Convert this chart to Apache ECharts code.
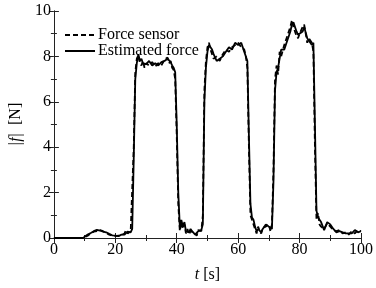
<!DOCTYPE html>
<html>
<head>
<meta charset="utf-8">
<script src="https://cdn.jsdelivr.net/npm/echarts@6/dist/echarts.min.js"></script>
<style>
  html, body { margin: 0; padding: 0; background: #fff; }
  #chart { width: 376px; height: 288px; }
</style>
</head>
<body>
<div id="chart"></div>
<script>
// time [s]
var time = [0, 9.5, 10, 11, 12, 13, 14, 15, 16, 17, 18, 19, 20, 21, 22, 23, 23.5, 24, 25, 25.5,
  26, 26.5, 27, 27.5, 28, 28.5, 29, 29.5, 30, 31, 32, 33, 34, 35, 36, 37, 37.5, 38, 38.5, 39, 39.5,
  40, 40.5, 41, 41.5, 42, 42.5, 43, 43.5, 44, 44.5, 45, 46, 46.5, 47, 48, 48.5,
  49, 49.5, 50, 50.5, 51, 51.5, 52, 53, 54, 55, 56, 57, 58, 59, 60, 61, 62, 62.5, 63,
  63.5, 64, 64.5, 65, 65.5, 66, 66.5, 67, 67.5, 68, 69, 70, 70.5, 71,
  71.5, 72, 72.5, 73, 73.5, 74, 75, 76, 77, 77.5, 78, 79, 79.5, 80, 81, 81.5, 82, 82.5, 83, 84, 84.5,
  85, 85.5, 86, 86.5, 87, 88, 89, 90, 91, 92, 93, 94, 95, 96, 97, 98, 99, 100]

// force sensor |f| [N]
var sensorForce = [0, 0, 0.05, 0.1, 0.2, 0.28, 0.3, 0.35, 0.3, 0.22, 0.15, 0.1, 0.08, 0.1, 0.12, 0.2, 0.35, 0.2, 0.3, 0.35,
  4.0, 7.3, 7.9, 8.05, 7.7, 7.6, 7.8, 7.5, 7.7, 7.6, 7.75, 7.55, 7.7, 7.6, 7.85, 7.95, 7.7, 7.8, 7.5, 7.4, 7.0,
  4.5, 1.5, 0.3, 0.7, 0.4, 0.6, 0.2, 0.4, 0.15, 0.3, 0.35, 0.2, 0.1, 0.35, 0.3, 1.0,
  6.5, 7.8, 8.4, 8.6, 8.3, 8.1, 7.9, 8.0, 7.8, 8.1, 8.3, 8.2, 8.4, 8.5, 8.6, 8.4, 8.3, 8.0, 7.5,
  4.0, 1.0, 1.0, 0.6, 0.4, 0.2, 0.5, 0.3, 0.2, 0.45, 0.5, 0.6, 0.3, 0.6,
  3.0, 7.0, 7.6, 7.2, 8.2, 8.0, 8.5, 8.9, 9.3, 9.6, 9.3, 8.9, 8.8, 9.0, 9.3, 9.4, 9.0, 8.6, 8.8, 8.6, 8.2,
  4.0, 0.8, 1.1, 0.6, 0.5, 0.4, 0.65, 0.5, 0.35, 0.3, 0.35, 0.2, 0.25, 0.15, 0.3, 0.2, 0.35, 0.3]

// estimated force |f| [N]
var estimatedForce = [0, 0, 0.08, 0.15, 0.22, 0.3, 0.36, 0.33, 0.28, 0.25, 0.18, 0.12, 0.1, 0.08, 0.15, 0.15, 0.2, 0.28, 0.25, 0.4,
  3.5, 7.0, 7.7, 8.1, 7.8, 7.9, 7.7, 7.75, 7.65, 7.8, 7.6, 7.7, 7.6, 7.75, 7.8, 7.9, 7.85, 7.75, 7.6, 7.5, 7.3,
  5.0, 2.0, 0.5, 0.8, 0.5, 0.7, 0.3, 0.35, 0.25, 0.4, 0.3, 0.15, 0.2, 0.3, 0.35, 0.6,
  6.0, 7.5, 8.2, 8.5, 8.4, 8.3, 8.1, 7.8, 7.9, 8.0, 8.2, 8.4, 8.3, 8.6, 8.5, 8.6, 8.2, 8.2, 7.8,
  4.5, 1.5, 0.9, 0.8, 0.5, 0.3, 0.4, 0.4, 0.25, 0.4, 0.6, 0.5, 0.5, 0.4,
  2.5, 6.5, 7.3, 7.5, 7.9, 8.3, 8.3, 8.7, 9.1, 9.4, 9.5, 9.1, 8.95, 8.9, 9.1, 9.3, 9.3, 8.8, 8.7, 8.5, 8.6,
  5.0, 1.2, 0.9, 0.8, 0.7, 0.35, 0.7, 0.6, 0.4, 0.25, 0.3, 0.25, 0.2, 0.2, 0.2, 0.35, 0.25, 0.3]

var xTicks = [0, 20, 40, 60, 80, 100]
var yTicks = [0, 2, 4, 6, 8, 10]

var serif = 'Liberation Serif'

function pairs(xs, ys) {
  return xs.map(function (x, i) { return [x, ys[i]] })
}

var chart = echarts.init(document.getElementById('chart'))

var axisCommon = {
  type: 'value',
  axisLine: { show: true, lineStyle: { color: '#222', width: 1 } },
  axisTick: { show: true, inside: true, length: 5, lineStyle: { color: '#222' } },
  minorTick: { show: true, splitNumber: 2, length: 3, lineStyle: { color: '#222' } },
  splitLine: { show: false },
  minorSplitLine: { show: false }
}

var options = {
  animation: false,
  backgroundColor: '#fff',
  textStyle: { fontFamily: serif, color: '#000' },
  grid: { left: 46, right: 14, top: 11, bottom: 50 },
  legend: {
    left: 59,
    top: 22,
    orient: 'vertical',
    itemWidth: 30,
    itemHeight: 14,
    itemGap: 0,
    itemStyle: { opacity: 0 },
    textStyle: { fontFamily: serif, fontSize: 16, color: '#000', padding: [0, 0, 0, -2] },
    data: ['Force sensor', 'Estimated force']
  },
  xAxis: [
    Object.assign({}, axisCommon, {
      min: xTicks[0],
      max: xTicks[xTicks.length - 1],
      interval: 20,
      position: 'bottom',
      name: '{i|t} [s]',
      nameLocation: 'middle',
      nameGap: 29,
      nameTextStyle: {
        fontFamily: serif, fontSize: 16, color: '#000',
        rich: { i: { fontFamily: serif, fontSize: 16, fontStyle: 'italic' } }
      },
      axisLine: { show: true, lineStyle: { color: '#555', width: 1 } },
      axisLabel: { fontFamily: serif, fontSize: 16, color: '#000', margin: 4 }
    }),
    Object.assign({}, axisCommon, {
      min: xTicks[0],
      max: xTicks[xTicks.length - 1],
      interval: 20,
      position: 'top',
      axisLabel: { show: false }
    })
  ],
  yAxis: [
    Object.assign({}, axisCommon, {
      min: yTicks[0],
      max: yTicks[yTicks.length - 1],
      interval: 2,
      position: 'left',
      name: '{i||f|}  [N]',
      nameLocation: 'middle',
      nameGap: 26,
      nameTextStyle: {
        fontFamily: serif, fontSize: 16, color: '#000',
        rich: { i: { fontFamily: serif, fontSize: 16, fontStyle: 'italic' } }
      },
      axisLabel: { fontFamily: serif, fontSize: 16, color: '#000', margin: 3 }
    }),
    Object.assign({}, axisCommon, {
      min: yTicks[0],
      max: yTicks[yTicks.length - 1],
      interval: 2,
      position: 'right',
      axisLabel: { show: false }
    })
  ],
  series: [
    {
      name: 'Force sensor',
      type: 'line',
      symbol: 'none',
      data: pairs(time, sensorForce),
      lineStyle: { color: '#000', width: 1.8, type: [5, 3] },
      itemStyle: { color: '#000' }
    },
    {
      name: 'Estimated force',
      type: 'line',
      symbol: 'none',
      data: pairs(time, estimatedForce),
      lineStyle: { color: '#000', width: 1.8 },
      itemStyle: { color: '#000' }
    }
  ]
}

chart.setOption(options)
</script>
</body>
</html>
